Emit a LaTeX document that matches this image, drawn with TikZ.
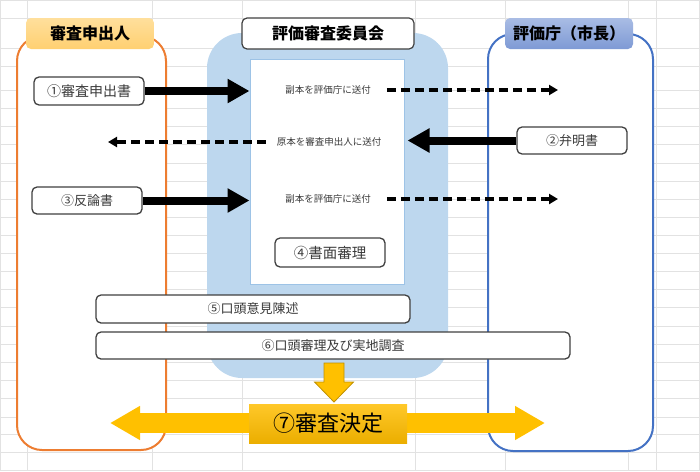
\documentclass[tikz,border=0pt]{standalone}
\usepackage{fontspec}
\newfontfamily\jp{Noto Sans CJK JP}
\usetikzlibrary{arrows.meta}
\definecolor{gridgray}{HTML}{E2E2E2}
\definecolor{laneorange}{HTML}{ED7D31}
\definecolor{laneblue}{HTML}{4472C4}
\definecolor{commblue}{HTML}{BDD7EE}
\definecolor{innerline}{HTML}{9DC3E6}
\definecolor{boxgray}{HTML}{404040}
\definecolor{txtgray}{HTML}{3A3A3A}
\definecolor{hdrorangeT}{HTML}{FFDF9C}
\definecolor{hdrorangeB}{HTML}{FFD071}
\definecolor{hdrblueT}{HTML}{A9BCE4}
\definecolor{hdrblueB}{HTML}{7E9AD5}
\definecolor{gold}{HTML}{FFC000}
\definecolor{goldT}{HTML}{FFC829}
\definecolor{goldB}{HTML}{EBAE00}
\definecolor{golddark}{HTML}{BF9000}
\begin{document}
\begin{tikzpicture}[x=1pt,y=-1pt,font=\jp,
  gridline/.style={draw=gridgray,line width=1pt},
  lane/.style={fill=white,line width=2pt,rounded corners=25pt,inner sep=0pt,anchor=center},
  hdr/.style={rounded corners=5pt,inner sep=0pt,anchor=center,minimum height=31pt,
    font=\jp\bfseries\fontsize{16}{18}\selectfont,text=black},
  wbox/.style={draw=boxgray,fill=white,line width=1.3pt,rounded corners=5pt,inner sep=0pt,
    anchor=center,text=txtgray,font=\jp\fontsize{13}{15}\selectfont},
  smalltxt/.style={inner sep=0pt,anchor=center,text=txtgray,font=\jp\fontsize{9.5}{11}\selectfont},
  bigarrow/.style={draw=black,line width=8pt,-{Triangle[length=22pt,width=23pt]}},
  dasharrow/.style={draw=black,line width=3.2pt,dash pattern=on 9pt off 5pt,
    -{Triangle[length=9pt,width=10pt]}},
  yarrow/.style={draw=gold,line width=20pt,
    {Triangle[length=30pt,width=32pt]}-{Triangle[length=30pt,width=32pt]}}
]
\useasboundingbox (0,0) rectangle (700,471);
% background spreadsheet grid
\foreach \yy in {0.5,18,48,66,90,108,126,144,163,181,199,217,235,253,271,289,307,326,344,362,380,398,417,434,452,470.5}
  \draw[gridline] (0,\yy) -- (700,\yy);
\foreach \xx in {0.5,27,152,242,415,505,628,656,699.5}
  \draw[gridline] (\xx,0) -- (\xx,471);
% lanes
\node[lane,draw=laneorange,minimum width=149pt,minimum height=414pt] (laneA) at (91.5,243) {};
\node[lane,draw=laneblue,minimum width=165pt,minimum height=417pt] (laneB) at (570.5,242.5) {};
\node[fill=commblue,rounded corners=35pt,inner sep=0pt,anchor=center,
  minimum width=241pt,minimum height=345pt] (comm) at (327.5,205.5) {};
\node[fill=white,draw=innerline,line width=1pt,inner sep=0pt,anchor=center,
  minimum width=154pt,minimum height=225pt] (inner) at (327,171.5) {};
% headers
\node[hdr,top color=hdrorangeT,bottom color=hdrorangeB,minimum width=128pt] (hA) at (90,33.5) {審査申出人};
\node[hdr,fill=white,draw=boxgray,line width=1.2pt,minimum width=172pt] (hC) at (328,33.5) {評価審査委員会};
\node[hdr,top color=hdrblueT,bottom color=hdrblueB,minimum width=128pt] (hB) at (569,33.5) {評価庁（市長）};
% document boxes
\node[wbox,minimum width=110pt,minimum height=28pt,font=\jp\fontsize{14}{16}\selectfont] (b1) at (89,91) {①審査申出書};
\node[wbox,minimum width=110pt,minimum height=27pt] (b3) at (87,200.5) {③反論書};
\node[wbox,minimum width=110pt,minimum height=27pt] (b2) at (572,140.5) {②弁明書};
\node[wbox,minimum width=110pt,minimum height=29pt,font=\jp\fontsize{14.5}{16}\selectfont] (b4) at (330,252.5) {④書面審理};
% texts in the committee
\node[smalltxt] (t1) at (328,90) {副本を評価庁に送付};
\node[smalltxt] (t2) at (329,142) {原本を審査申出人に送付};
\node[smalltxt] (t3) at (328,199) {副本を評価庁に送付};
% thick arrows
\draw[bigarrow] (b1.east) -- (b1.east -| inner.west);
\draw[bigarrow] (b3.east) -- (b3.east -| inner.west);
\draw[bigarrow] (b2.west) -- ([xshift=3pt]b2.west -| inner.east);
% dashed arrows
\coordinate (e1) at (542,89);
\coordinate (e2) at (119,144);
\coordinate (e3) at (542,199);
\draw[dasharrow] ([xshift=16pt]t1.east) -- ([xshift=16pt]t1.east -| e1);
\draw[dasharrow] ([xshift=-11pt]t2.west) -- ([xshift=-11pt]t2.west -| e2);
\draw[dasharrow] ([xshift=16pt]t3.east) -- ([xshift=16pt]t3.east -| e3);
% oral boxes
\node[wbox,minimum width=314pt,minimum height=28pt] (b5) at (253,309) {⑤口頭意見陳述};
\node[wbox,minimum width=474pt,minimum height=27pt] (b6) at (333,345.5) {⑥口頭審理及び実地調査};
% down arrow
\filldraw[fill=gold,draw=golddark,line width=0.8pt]
  (324,363) -- (344,363) -- (344,382) -- (353.5,382) -- (334,402) -- (314.5,382) -- (324,382) -- cycle;
% decision arrow and box
\coordinate (yl) at (110,423);
\coordinate (yr) at (545,423);
\draw[yarrow] (yl) -- (yr);
\node[top color=goldT,bottom color=goldB,inner sep=0pt,anchor=center,minimum width=158pt,
  minimum height=39pt,font=\jp\fontsize{22}{24}\selectfont,text=black] (b7) at (328,423.5) {⑦審査決定};
\end{tikzpicture}
\end{document}
